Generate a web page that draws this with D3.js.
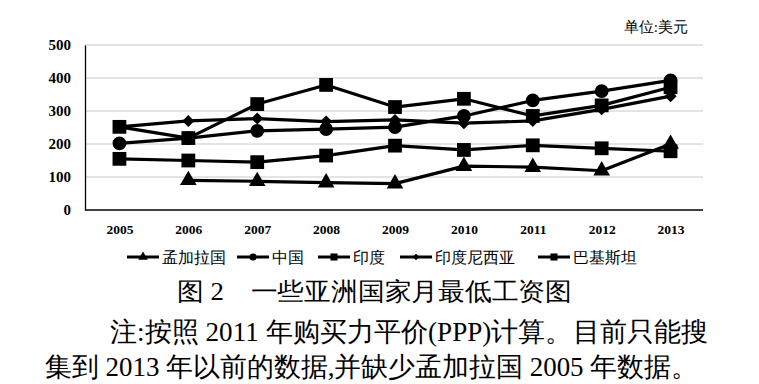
<!DOCTYPE html>
<html><head><meta charset="utf-8">
<script src="https://cdn.jsdelivr.net/npm/d3@7"></script>
<style>body{margin:0;background:#fff}svg{display:block}</style>
</head><body>
<svg id="c" width="759" height="384"></svg>
<script>
const years = ["2005","2006","2007","2008","2009","2010","2011","2012","2013"];
const bangladesh = [null, 90, 87, 83, 80, 133, 130, 119, 200];
const china = [202, 218, 240, 245, 251, 285, 332, 360, 393];
const india = [155, 150, 145, 165, 195, 182, 196, 187, 178];
const indonesia = [252, 270, 277, 268, 273, 263, 270, 305, 345];
const pakistan = [252, 218, 321, 379, 312, 337, 285, 317, 372];
const yTicks = [0, 100, 200, 300, 400, 500];
const seriesNames = ["孟加拉国","中国","印度","印度尼西亚","巴基斯坦"];
const unitLabel = "单位:美元";
const caption = "图 2　一些亚洲国家月最低工资图";
const note1 = "注:按照 2011 年购买力平价(PPP)计算。目前只能搜";
const note2 = "集到 2013 年以前的数据,并缺少孟加拉国 2005 年数据。";

const series = [
  {name: seriesNames[0], values: bangladesh, sym: d3.symbolTriangle, size: 120, lsize: 40, rot: 0},
  {name: seriesNames[1], values: china, sym: d3.symbolCircle, size: 150, lsize: 40, rot: 0},
  {name: seriesNames[2], values: india, sym: d3.symbolSquare, size: 190, lsize: 50, rot: 0},
  {name: seriesNames[3], values: indonesia, sym: d3.symbolSquare, size: 72, lsize: 22, rot: 45},
  {name: seriesNames[4], values: pakistan, sym: d3.symbolSquare, size: 190, lsize: 50, rot: 0}
];

const SERIF = "Liberation Serif";
const svg = d3.select("#c");
const x = d3.scalePoint().domain(years).range([85, 705]).padding(0.5);
const y = d3.scaleLinear().domain([0, 500]).range([210, 45]);

// gridlines
svg.append("g").selectAll("line").data(yTicks.filter(d => d > 0)).join("line")
  .attr("x1", 85).attr("x2", 703).attr("y1", d => y(d)).attr("y2", d => y(d))
  .attr("stroke", "#c8c8c8").attr("stroke-width", 1);

// axes
const yAxis = svg.append("g").attr("transform", "translate(85,0)")
  .call(d3.axisLeft(y).tickValues(yTicks).tickSize(0).tickPadding(14));
yAxis.select(".domain").attr("stroke", "#000").attr("stroke-width", 1.3);
yAxis.selectAll("text").style("font-family", SERIF).style("font-size", "15px").style("font-weight", "bold").attr("fill", "#000");

const xAxis = svg.append("g").attr("transform", "translate(0,210)")
  .call(d3.axisBottom(x).tickSize(0).tickPadding(14));
xAxis.select(".domain").attr("d", "M85,0H703").attr("stroke", "#000").attr("stroke-width", 1.5);
xAxis.selectAll("text").style("font-family", SERIF).style("font-size", "13.5px").style("font-weight", "bold").attr("fill", "#000");

// lines
const line = d3.line().defined(d => d.v != null).x(d => x(d.year)).y(d => y(d.v));
series.forEach(s => {
  const pts = years.map((yr, i) => ({year: yr, v: s.values[i]}));
  svg.append("path").datum(pts).attr("d", line)
    .attr("fill", "none").attr("stroke", "#000").attr("stroke-width", 3.2).attr("stroke-linejoin", "round");
  svg.append("g").selectAll("path").data(pts.filter(d => d.v != null)).join("path")
    .attr("d", d3.symbol().type(s.sym).size(s.size))
    .attr("transform", d => `translate(${x(d.year)},${y(d.v)}) rotate(${s.rot})`)
    .attr("fill", "#000");
});

// unit label
svg.append("text").style("font-family", SERIF).style("font-size", "15px")
  .attr("x", 688).attr("y", 32).attr("text-anchor", "end").text(unitLabel);

// legend
const legendX = [127, 237, 318, 400, 538];
const lg = svg.append("g").attr("transform", "translate(0,257)");
series.forEach((s, i) => {
  const g = lg.append("g").attr("transform", `translate(${legendX[i]},0)`);
  g.append("line").attr("x1", 0).attr("x2", 32).attr("y1", 0).attr("y2", 0).attr("stroke", "#000").attr("stroke-width", 3);
  g.append("path").attr("d", d3.symbol().type(s.sym).size(s.lsize)).attr("transform", `translate(16,0) rotate(${s.rot})`).attr("fill", "#000");
  g.append("text").style("font-family", SERIF).style("font-size", "15.5px").attr("x", 35).attr("y", 6).text(s.name);
});

// caption and notes
svg.append("text").style("font-family", SERIF).style("font-size", "25px")
  .attr("x", 177).attr("y", 300)
  .attr("textLength", 395).attr("lengthAdjust", "spacingAndGlyphs").text(caption);
svg.append("text").style("font-family", SERIF).style("font-size", "27px")
  .attr("x", 110).attr("y", 341)
  .attr("textLength", 598).attr("lengthAdjust", "spacingAndGlyphs").text(note1);
svg.append("text").style("font-family", SERIF).style("font-size", "27px")
  .attr("x", 45).attr("y", 376)
  .attr("textLength", 653).attr("lengthAdjust", "spacingAndGlyphs").text(note2);
</script>
</body></html>
